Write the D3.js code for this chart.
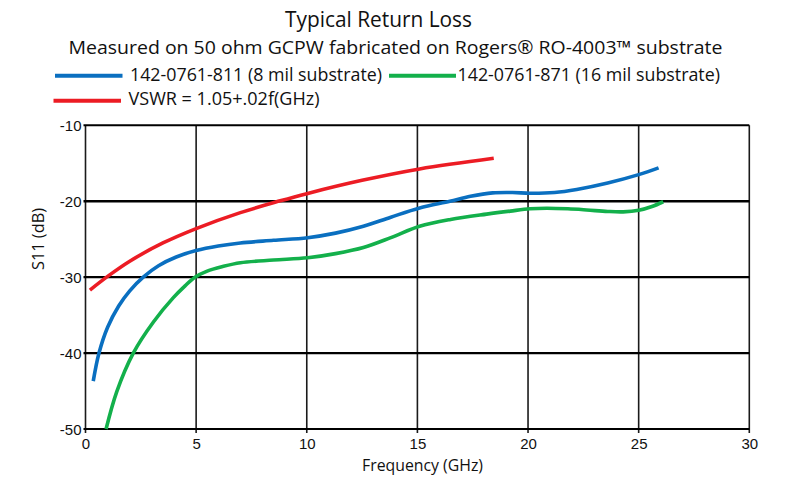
<!DOCTYPE html>
<html>
<head>
<meta charset="utf-8">
<script src="https://cdn.jsdelivr.net/npm/d3@7"></script>
<style>
  html, body { margin: 0; padding: 0; background: #fff; }
  svg { display: block; }
</style>
</head>
<body>
<svg id="chart" width="785" height="478"></svg>
<script>
// ---- Data ----
const xTicks = [0, 5, 10, 15, 20, 25, 30];
const yTicks = [-50, -40, -30, -20, -10];

const seriesNames = [
  "142-0761-811 (8 mil substrate)",
  "142-0761-871 (16 mil substrate)",
  "VSWR = 1.05+.02f(GHz)"
];
const seriesColors = ["#0a6fc0", "#13b04b", "#ec1c24"];

const blueFreq = [0.35, 0.61, 1.0, 1.5, 2.0, 2.61, 3.3, 4.1, 5, 6, 7, 8.5, 10.04, 11.3, 12.56, 13.8, 15.1, 16.47, 17.4, 18.4, 19.3, 20.09, 21.2, 22.2, 23.6, 25, 25.9];
const blueS11  = [-43.7, -40, -36.6, -33.8, -31.8, -30, -28.5, -27.35, -26.5, -25.9, -25.5, -25.15, -24.8, -24.2, -23.3, -22.1, -20.9, -20.0, -19.35, -18.9, -18.85, -18.95, -18.85, -18.45, -17.6, -16.5, -15.6];

const greenFreq = [0.93, 1.41, 2.16, 3.07, 3.97, 4.5, 4.95, 5.5, 6.2, 7, 8.5, 10.04, 11.3, 12.56, 13.8, 15.1, 16.5, 18.13, 19.2, 20.09, 20.84, 21.8, 22.65, 23.6, 24.3, 25, 25.6, 26.11];
const greenS11  = [-50, -45.1, -40, -35.9, -32.7, -31.15, -30, -29.2, -28.6, -28.1, -27.75, -27.45, -26.9, -26.1, -24.8, -23.3, -22.4, -21.7, -21.3, -21.0, -20.92, -21.0, -21.15, -21.35, -21.4, -21.2, -20.7, -20.07];

const redFreq = [0.2, 1, 2, 3.5, 5, 7, 8.8, 10, 12.5, 15.1, 18.45];
const redS11  = [-31.7, -29.9, -27.9, -25.5, -23.6, -21.5, -19.95, -19.0, -17.25, -15.75, -14.35];

// ---- Layout ----
const svg = d3.select("#chart");
const pLeft = 85.5, pRight = 749.3, pTop = 125.3, pBottom = 429;

const x = d3.scaleLinear().domain([0, 30]).range([pLeft, pRight]);
const y = d3.scaleLinear().domain([-50, -10]).range([pBottom, pTop]);

const condensed = "'Liberation Sans Narrow', 'Open Sans', sans-serif";

// Titles
svg.append("text").attr("x", 285).attr("y", 27)
  .attr("textLength", 187).attr("lengthAdjust", "spacingAndGlyphs")
  .style("font-family", condensed).style("font-size", "21px").attr("fill", "#111")
  .text("Typical Return Loss");
svg.append("text").attr("x", 68.5).attr("y", 54)
  .attr("textLength", 654).attr("lengthAdjust", "spacingAndGlyphs")
  .style("font-family", condensed).style("font-size", "18px").attr("fill", "#111")
  .text("Measured on 50 ohm GCPW fabricated on Rogers® RO-4003™ substrate");

// Legend
const legendItems = [
  {lx1: 55, lx2: 122.5, ly: 75.7, tx: 130, tw: 252, ty: 81},
  {lx1: 389, lx2: 456, ly: 75.7, tx: 457.5, tw: 262.5, ty: 81},
  {lx1: 53.5, lx2: 121, ly: 100.7, tx: 128.5, tw: 191, ty: 105}
];
legendItems.forEach((d, i) => {
  svg.append("line").attr("x1", d.lx1).attr("x2", d.lx2).attr("y1", d.ly).attr("y2", d.ly)
    .attr("stroke", seriesColors[i]).attr("stroke-width", 4);
  svg.append("text").attr("x", d.tx).attr("y", d.ty)
    .attr("textLength", d.tw).attr("lengthAdjust", "spacingAndGlyphs")
    .style("font-family", condensed).style("font-size", "19px").attr("fill", "#111")
    .text(seriesNames[i]);
});

// Grid: vertical lines
const g = svg.append("g");
g.selectAll("line.v").data(xTicks).enter().append("line")
  .attr("class", "v")
  .attr("x1", d => x(d)).attr("x2", d => x(d))
  .attr("y1", pTop).attr("y2", pBottom + 4)
  .attr("stroke", "#1a1a1a").attr("stroke-width", 1.6);
// Grid: horizontal lines
g.selectAll("line.h").data(yTicks).enter().append("line")
  .attr("class", "h")
  .attr("x1", pLeft - 2).attr("x2", pRight)
  .attr("y1", d => y(d)).attr("y2", d => y(d))
  .attr("stroke", "#000")
  .attr("stroke-width", d => (d === -50 ? 1.8 : d === -10 ? 2 : 2.4));

// Axes labels via d3 axes (tick text only)
const fmt = d => String(d);
const xAxis = d3.axisBottom(x).tickValues(xTicks).tickFormat(fmt).tickSize(0).tickPadding(0);
const gx = svg.append("g").attr("transform", `translate(0,${pBottom})`).call(xAxis);
gx.select(".domain").remove();
gx.selectAll("text").attr("dy", null).attr("y", 20)
  .style("font-family", "'Liberation Sans', Arial, sans-serif").style("font-size", "15px").attr("fill", "#111");

const yAxis = d3.axisLeft(y).tickValues(yTicks).tickFormat(fmt).tickSize(0).tickPadding(0);
const gy = svg.append("g").attr("transform", `translate(${pLeft - 4},0)`).call(yAxis);
gy.select(".domain").remove();
gy.selectAll("text").attr("x", 0).attr("dy", "0.36em")
  .style("font-family", "'Liberation Sans', Arial, sans-serif").style("font-size", "15px").attr("fill", "#111");

// Axis titles
svg.append("text").attr("x", 422.5).attr("y", 470.5).attr("text-anchor", "middle")
  .attr("textLength", 121).attr("lengthAdjust", "spacingAndGlyphs")
  .style("font-family", condensed).style("font-size", "16px").attr("fill", "#111")
  .text("Frequency (GHz)");
svg.append("text").attr("transform", "translate(44,239) rotate(-90)").attr("text-anchor", "middle")
  .attr("textLength", 62).attr("lengthAdjust", "spacingAndGlyphs")
  .style("font-family", "'Open Sans', sans-serif").style("font-size", "15.5px").attr("fill", "#111")
  .text("S11 (dB)");

// Curves
const line = d3.line().x(d => x(d[0])).y(d => y(d[1])).curve(d3.curveCatmullRom.alpha(0.5));
const curves = [
  d3.zip(blueFreq, blueS11),
  d3.zip(greenFreq, greenS11),
  d3.zip(redFreq, redS11)
];
curves.forEach((data, i) => {
  svg.append("path").datum(data)
    .attr("d", line)
    .attr("fill", "none")
    .attr("stroke", seriesColors[i])
    .attr("stroke-width", 3.6)
    .attr("stroke-linecap", "butt");
});
</script>
</body>
</html>
